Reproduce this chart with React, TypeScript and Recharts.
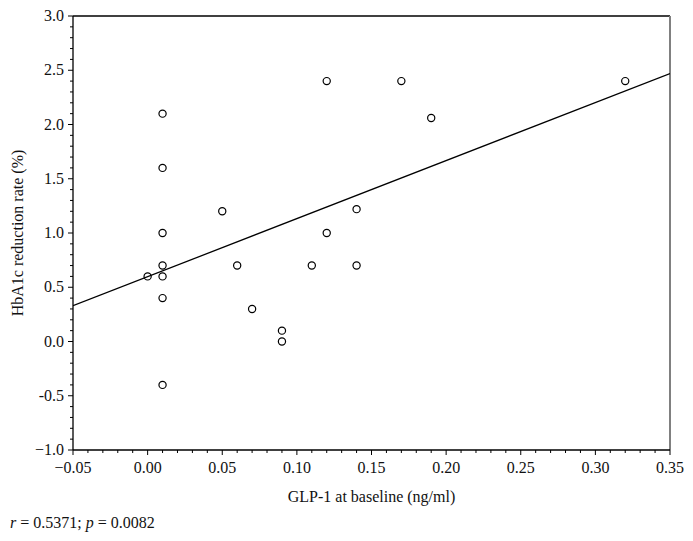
import { ScatterChart, Scatter, XAxis, YAxis, ReferenceLine } from "recharts";

// GLP-1 at baseline (ng/ml) and HbA1c reduction rate (%) per patient
const glp1 = [0.01, 0.01, 0.01, 0.01, 0.01, 0.0, 0.01, 0.01, 0.05, 0.06, 0.07, 0.09, 0.09, 0.11, 0.12, 0.12, 0.14, 0.14, 0.17, 0.19, 0.32];
const hba1c = [2.1, 1.6, 1.0, 0.7, 0.6, 0.6, 0.4, -0.4, 1.2, 0.7, 0.3, 0.1, 0.0, 0.7, 2.4, 1.0, 1.22, 0.7, 2.4, 2.06, 2.4];

// regression line end points
const fitX = [-0.05, 0.35];
const fitY = [0.33, 2.47];

const xLabels = ["\u22120.05", "0.00", "0.05", "0.10", "0.15", "0.20", "0.25", "0.30", "0.35"];
const yLabels = ["\u22121.0", "-0.5", "0.0", "0.5", "1.0", "1.5", "2.0", "2.5", "3.0"];

const xTicks = Array.from({ length: 41 }, (_, i) => Number((-0.05 + i * 0.01).toFixed(2)));
const yTicks = Array.from({ length: 41 }, (_, i) => Number((-1 + i * 0.1).toFixed(1)));

const points = glp1.map((x, i) => ({ x, y: hba1c[i] }));
const fit = fitX.map((x, i) => ({ x, y: fitY[i] }));

const FONT = "'Liberation Serif', 'DejaVu Serif', serif";
const FS = 16;

function XTick(props: any) {
  const { x, y, payload } = props;
  const hund = Math.round(payload.value * 100);
  const major = hund % 5 === 0;
  const idx = Math.round((hund + 5) / 5);
  return (
    <g>
      <line x1={x} x2={x} y1={y} y2={y + (major ? 5 : 3)} stroke="#000" strokeWidth={1} />
      {major && (
        <text x={x} y={y + 23} textAnchor="middle" fontSize={FS} fontFamily={FONT} fill="#111">
          {xLabels[idx]}
        </text>
      )}
    </g>
  );
}

function YTick(props: any) {
  const { x, y, payload } = props;
  const tenth = Math.round(payload.value * 10);
  const major = tenth % 5 === 0;
  const idx = Math.round((tenth + 10) / 5);
  return (
    <g>
      <line x1={x} x2={x - (major ? 5 : 3)} y1={y} y2={y} stroke="#000" strokeWidth={1} />
      {major && (
        <text x={x - 9} y={y + 5} textAnchor="end" fontSize={FS} fontFamily={FONT} fill="#111">
          {yLabels[idx]}
        </text>
      )}
    </g>
  );
}

const ring = (p: any) => (
  <circle cx={p.cx} cy={p.cy} r={3.6} fill="none" stroke="#000" strokeWidth={1.2} />
);

export default function App() {
  return (
    <div style={{ position: "absolute", left: 0, top: 0, background: "#fff" }}>
      <ScatterChart width={693} height={541} margin={{ top: 16, right: 23, bottom: 0, left: 0 }}>
        <XAxis
          type="number"
          dataKey="x"
          domain={[-0.05, 0.35]}
          ticks={xTicks}
          interval={0}
          allowDataOverflow
          height={91}
          tickSize={0}
          tickMargin={0}
          tick={<XTick />}
          tickLine={false}
          axisLine={{ stroke: "#000", strokeWidth: 1.3 }}
          label={{
            content: (lp: any) => {
              const vb = lp.viewBox;
              return (
                <g fontFamily={FONT} fontSize={FS} fill="#111">
                  <text x={vb.x + vb.width / 2} y={vb.y + 52} textAnchor="middle">
                    GLP-1 at baseline (ng/ml)
                  </text>
                  <text x={10} y={vb.y + 78}>
                    <tspan fontStyle="italic">r</tspan> = 0.5371; <tspan fontStyle="italic">p</tspan> = 0.0082
                  </text>
                </g>
              );
            },
          }}
        />
        <YAxis
          type="number"
          dataKey="y"
          domain={[-1, 3]}
          ticks={yTicks}
          interval={0}
          allowDataOverflow
          width={73}
          tickSize={0}
          tickMargin={0}
          tick={<YTick />}
          tickLine={false}
          axisLine={{ stroke: "#000", strokeWidth: 1.3 }}
          label={{
            content: (lp: any) => {
              const vb = lp.viewBox;
              const cx = 23;
              const cy = vb.y + vb.height / 2;
              return (
                <text
                  x={cx}
                  y={cy}
                  transform={`rotate(-90, ${cx}, ${cy})`}
                  textAnchor="middle"
                  fontFamily={FONT}
                  fontSize={FS}
                  fill="#111"
                >
                  HbA1c reduction rate (%)
                </text>
              );
            },
          }}
        />
        <ReferenceLine y={3} stroke="#000" strokeWidth={1.3} />
        <ReferenceLine x={0.35} stroke="#808080" strokeWidth={2} />
        <Scatter data={fit} line={{ stroke: "#000", strokeWidth: 1.3 }} shape={() => null} isAnimationActive={false} />
        <Scatter data={points} shape={ring} isAnimationActive={false} />
      </ScatterChart>
    </div>
  );
}
